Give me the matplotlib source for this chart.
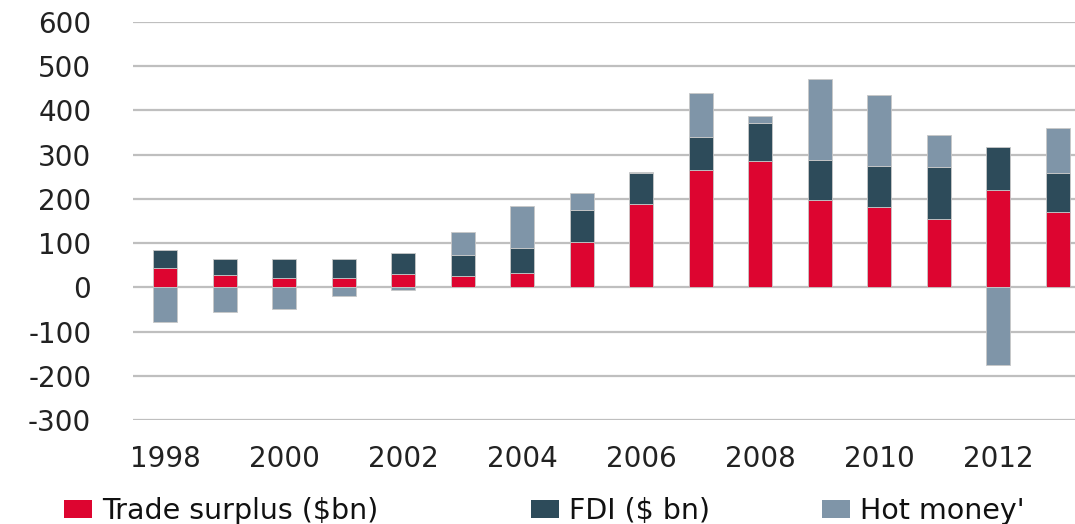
import matplotlib
matplotlib.use("Agg")
import matplotlib.pyplot as plt
from matplotlib.patches import Patch
import numpy as np

years = [1998, 1999, 2000, 2001, 2002, 2003, 2004, 2005, 2006, 2007, 2008, 2009, 2010, 2011, 2012, 2013]
trade_surplus = [44, 27, 22, 22, 30, 25, 32, 103, 188, 265, 285, 197, 181, 155, 220, 170]
fdi = [41, 37, 42, 42, 47, 49, 58, 73, 71, 75, 86, 91, 93, 117, 98, 89]
hot_money = [-78, -55, -50, -19, -6, 50, 93, 38, 2, 100, 17, 184, 162, 73, -175, 101]
year_ticks = [1998, 2000, 2002, 2004, 2006, 2008, 2010, 2012]
y_ticks = [-300, -200, -100, 0, 100, 200, 300, 400, 500, 600]
labels = ["Trade surplus ($bn)", "FDI ($ bn)", "Hot money'"]

c_red = "#DD0530"
c_dark = "#2D4B5A"
c_grey = "#7F95A8"
edge = "#C8C8C8"

plt.rcParams['font.family'] = ['DejaVu Sans']
plt.rcParams['axes.unicode_minus'] = False
fig = plt.figure(figsize=(10.75, 5.24), dpi=100)
ax = fig.add_axes([133/1075, 1-420/524, 942/1075, (420-22)/524])

x = np.array(years, dtype=float)
ts = np.array(trade_surplus, dtype=float)
fd = np.array(fdi, dtype=float)
hm = np.array(hot_money, dtype=float)
w = 0.40

ax.bar(x, ts, width=w, color=c_red, edgecolor=edge, linewidth=0.6, zorder=3)
ax.bar(x, fd, width=w, bottom=ts, color=c_dark, edgecolor=edge, linewidth=0.6, zorder=3)
hm_bottom = np.where(hm >= 0, ts + fd, 0)
ax.bar(x, hm, width=w, bottom=hm_bottom, color=c_grey, edgecolor=edge, linewidth=0.6, zorder=3)

ax.set_ylim(-300, 600)
ax.set_xlim(1997.46, 2013.29)
ax.set_yticks(y_ticks)
ax.set_xticks(year_ticks)
ax.set_xticklabels([str(y) for y in year_ticks])
ax.yaxis.grid(True, color="#BFBFBF", linewidth=1.6, zorder=0)
ax.set_axisbelow(True)
for s in ax.spines.values():
    s.set_visible(False)
ax.tick_params(axis='both', length=0, labelsize=20, colors="#222222")
ax.tick_params(axis='y', pad=30)
ax.tick_params(axis='x', pad=18)

handles_colors = [c_red, c_dark, c_grey]
xpos = [64/1075, 531/1075, 822/1075]
for lab, col, xp in zip(labels, handles_colors, xpos):
    leg = fig.legend(handles=[Patch(facecolor=col, edgecolor='none')], labels=[lab],
                     loc='center left', bbox_to_anchor=(xp, 1-511/524),
                     frameon=False, fontsize=20.5, handlelength=1.0, handleheight=0.55,
                     handletextpad=0.35, borderaxespad=0, borderpad=0)
    for t in leg.get_texts():
        t.set_color("#111111")

fig.savefig("out.png", dpi=100)
